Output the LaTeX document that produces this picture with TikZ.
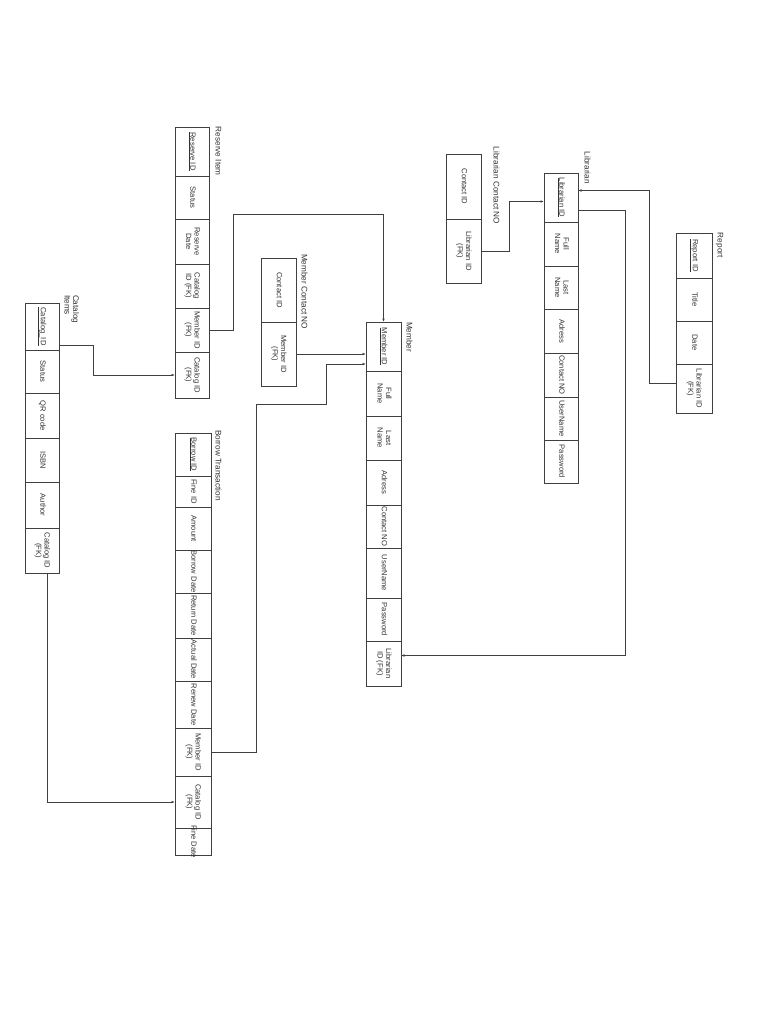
\documentclass[tikz,border=0pt]{standalone}
\usepackage{fontspec}
\setmainfont{Liberation Sans}
\usetikzlibrary{positioning}
\usetikzlibrary{arrows.meta}
\newcommand{\vtext}[1]{\rotatebox{-90}{\makebox[0pt]{\begin{tabular}{@{}c@{}}#1\end{tabular}}}}
\newcommand{\vtitle}[1]{\rotatebox{-90}{\begin{tabular}{@{}l@{}}#1\end{tabular}}}

\begin{document}
\begin{tikzpicture}[x=1pt,y=-1pt,
  cell/.style={draw=black!75, line width=0.7pt, inner sep=0pt, outer sep=0pt, font=\fontsize{7.6}{8.5}\selectfont, text=black!80},
  title/.style={inner sep=0pt, outer sep=0pt, anchor=north west, font=\fontsize{8.2}{8.6}\selectfont, text=black!80},
  link/.style={draw=black!75, line width=0.7pt, -{Latex[length=3.5pt,width=2.6pt]}}]

\fill[white] (0,0) rectangle (768,1024);
\useasboundingbox (0,0) rectangle (768,1024);

%%%%%%%%%%%%     Reserve Item   %%%%%%%%%%%%
\begin{scope}[cell/.append style={minimum width=34pt}]
\node[title] (ritl) at (213,127) {\vtitle{Reserve Item}};
\node[cell, minimum height=49pt, anchor=north west] (ri1) at (175,127) {\vtext{\underline{Reserve ID}}};
\node[cell, minimum height=43pt, below=0pt of ri1] (ri2) {\vtext{Status}};
\node[cell, minimum height=45pt, below=0pt of ri2] (ri3) {\vtext{Reserve\\Date}};
\node[cell, minimum height=44pt, below=0pt of ri3] (ri4) {\vtext{Catalog\\ID (FK)}};
\node[cell, minimum height=44pt, below=0pt of ri4] (ri5) {\vtext{Member ID\\(FK)}};
\node[cell, minimum height=46pt, below=0pt of ri5] (ri6) {\vtext{Catalog ID\\(FK)}};
\end{scope}

%%%%%%%%%%%%     Member Contact NO   %%%%%%%%%%%%
\begin{scope}[cell/.append style={minimum width=35pt}]
\node[title] (mctl) at (299,254) {\vtitle{Member Contact NO}};
\node[cell, minimum height=64pt, anchor=north west] (mc1) at (261,258) {\vtext{Contact ID}};
\node[cell, minimum height=64pt, below=0pt of mc1] (mc2) {\vtext{Member ID\\(FK)}};
\end{scope}

%%%%%%%%%%%%     Member   %%%%%%%%%%%%
\begin{scope}[cell/.append style={minimum width=35pt}]
\node[title] (metl) at (404,322) {\vtitle{Member}};
\node[cell, minimum height=49pt, anchor=north west] (me1) at (366,322) {\vtext{\underline{Member ID}}};
\node[cell, minimum height=45pt, below=0pt of me1] (me2) {\vtext{Full\\Name}};
\node[cell, minimum height=44pt, below=0pt of me2] (me3) {\vtext{Last\\Name}};
\node[cell, minimum height=45pt, below=0pt of me3] (me4) {\vtext{Adress}};
\node[cell, minimum height=43pt, below=0pt of me4] (me5) {\vtext{Contact NO}};
\node[cell, minimum height=50pt, below=0pt of me5] (me6) {\vtext{UserName}};
\node[cell, minimum height=43pt, below=0pt of me6] (me7) {\vtext{Password}};
\node[cell, minimum height=45pt, below=0pt of me7] (me8) {\vtext{Librarian\\ID (FK)}};
\end{scope}

%%%%%%%%%%%%     Librarian Contact NO   %%%%%%%%%%%%
\begin{scope}[cell/.append style={minimum width=35pt}]
\node[title] (lctl) at (491,147) {\vtitle{Librarian Contact NO}};
\node[cell, minimum height=65pt, anchor=north west] (lc1) at (446,154) {\vtext{Contact ID}};
\node[cell, minimum height=64pt, below=0pt of lc1] (lc2) {\vtext{Librarian ID\\(FK)}};
\end{scope}

%%%%%%%%%%%%     Librarian   %%%%%%%%%%%%
\begin{scope}[cell/.append style={minimum width=34pt}]
\node[title] (litl) at (582,152) {\vtitle{Librarian}};
\node[cell, minimum height=49pt, anchor=north west] (li1) at (544,173) {\vtext{\underline{Librarian ID}}};
\node[cell, minimum height=44pt, below=0pt of li1] (li2) {\vtext{Full\\Name}};
\node[cell, minimum height=43pt, below=0pt of li2] (li3) {\vtext{Last\\Name}};
\node[cell, minimum height=44pt, below=0pt of li3] (li4) {\vtext{Adress}};
\node[cell, minimum height=44pt, below=0pt of li4] (li5) {\vtext{Contact NO}};
\node[cell, minimum height=43pt, below=0pt of li5] (li6) {\vtext{UserName}};
\node[cell, minimum height=43pt, below=0pt of li6] (li7) {\vtext{Password}};
\end{scope}

%%%%%%%%%%%%     Report   %%%%%%%%%%%%
\begin{scope}[cell/.append style={minimum width=36pt}]
\node[title] (retl) at (715,233) {\vtitle{Report}};
\node[cell, minimum height=45pt, anchor=north west] (re1) at (676,233) {\vtext{\underline{Report ID}}};
\node[cell, minimum height=43pt, below=0pt of re1] (re2) {\vtext{Title}};
\node[cell, minimum height=43pt, below=0pt of re2] (re3) {\vtext{Date}};
\node[cell, minimum height=49pt, below=0pt of re3] (re4) {\vtext{Librarian ID\\(FK)}};
\end{scope}

%%%%%%%%%%%%     Catalog Items   %%%%%%%%%%%%
\begin{scope}[cell/.append style={minimum width=34pt}]
\node[title] (citl) at (62,295) {\vtitle{Catalog\\Items}};
\node[cell, minimum height=47pt, anchor=north west] (ci1) at (25,303) {\vtext{\underline{Catalog\_ID}}};
\node[cell, minimum height=43pt, below=0pt of ci1] (ci2) {\vtext{Status}};
\node[cell, minimum height=45pt, below=0pt of ci2] (ci3) {\vtext{QR code}};
\node[cell, minimum height=44pt, below=0pt of ci3] (ci4) {\vtext{ISBN}};
\node[cell, minimum height=46pt, below=0pt of ci4] (ci5) {\vtext{Author}};
\node[cell, minimum height=45pt, below=0pt of ci5] (ci6) {\vtext{Catalog ID\\(FK)}};
\end{scope}

%%%%%%%%%%%%     Borrow Transaction   %%%%%%%%%%%%
\begin{scope}[cell/.append style={minimum width=36pt}]
\node[title] (bttl) at (213,430) {\vtitle{Borrow Transaction}};
\node[cell, minimum height=43pt, anchor=north west] (bt1) at (175,433) {\vtext{\underline{Borrow ID}}};
\node[cell, minimum height=31pt, below=0pt of bt1] (bt2) {\vtext{Fine ID}};
\node[cell, minimum height=43pt, below=0pt of bt2] (bt3) {\vtext{Amount}};
\node[cell, minimum height=43pt, below=0pt of bt3] (bt4) {\vtext{Borrow Date}};
\node[cell, minimum height=45pt, below=0pt of bt4] (bt5) {\vtext{Return Date}};
\node[cell, minimum height=43pt, below=0pt of bt5] (bt6) {\vtext{Actual Date}};
\node[cell, minimum height=47pt, below=0pt of bt6] (bt7) {\vtext{Renew Date}};
\node[cell, minimum height=48pt, below=0pt of bt7] (bt8) {\vtext{Member ID\\(FK)}};
\node[cell, minimum height=52pt, below=0pt of bt8] (bt9) {\vtext{Catalog ID\\(FK)}};
\node[cell, minimum height=27pt, below=0pt of bt9] (bt10) {\vtext{Fine Date}};
\end{scope}

%%%%%%%%%%%%     Links   %%%%%%%%%%%%
\draw[link] ([yshift=5pt]ci1.south east) -- ++(34,0) |- (ri6.west);
\draw[link] (ri5.east) -- ++(24,0) -- ++(0,-116) -| (me1.north);
\draw[link] (mc2.east) -- (mc2.east -| me1.west);
\draw[link] (bt8.east) -- ++(45,0) -- ++(0,-348) -- ++(70,0) |- ([yshift=7pt]me1.south west);
\draw[link] (lc2.east) -- ++(28,0) |- ([yshift=-4pt]li1.west);
\draw[link] ([yshift=-13pt]li1.east) -- ++(47,0) |- ([yshift=8pt]me8.east);
\draw[link] ([yshift=5pt]re4.west) -- ++(-27,0) |- ([yshift=7pt]li1.east);
\draw[link] ([xshift=5pt]ci6.south) |- (bt9.west);

\end{tikzpicture}
\end{document}
